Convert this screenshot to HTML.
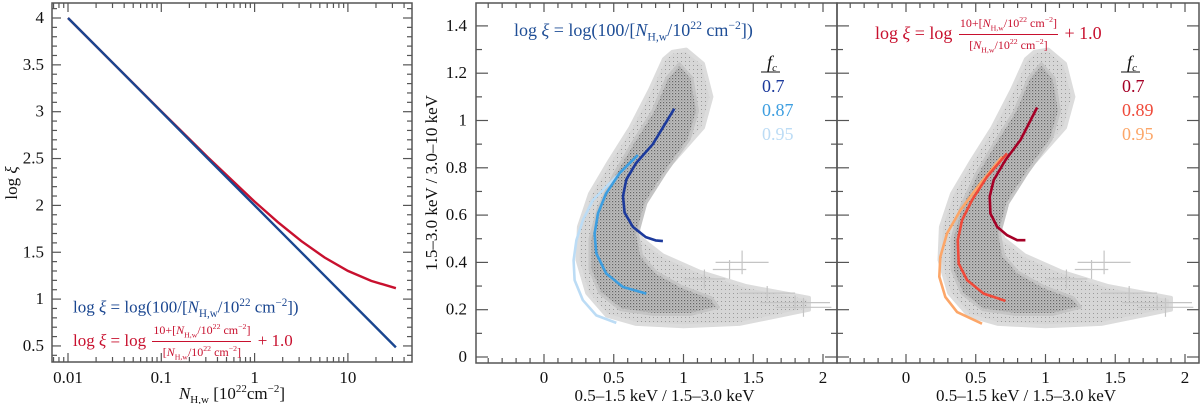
<!DOCTYPE html>
<html><head><meta charset="utf-8">
<style>
body{margin:0;background:#fff;}
#wrap{position:relative;width:1200px;height:404px;overflow:hidden;font-family:"Liberation Serif",serif;}
svg{position:absolute;left:0;top:0;}
.f{position:absolute;white-space:nowrap;font-family:"Liberation Serif",serif;}
.f i{font-style:italic}
.f sub,.f sup{font-size:65%;}
.frac{display:inline-block;vertical-align:middle;text-align:center;font-size:12px;line-height:13px;margin:0 2px;}
.frac .n{border-bottom:1px solid currentColor;padding:0 1px;}
</style></head>
<body>
<div id="wrap">
<svg id="svg" width="1200" height="404"></svg>

<div class="f" style="left:73px;top:297px;font-size:17px;color:#1a4690">log <i>ξ</i> = log(100/[<i>N</i><sub>H,w</sub>/10<sup>22</sup> cm<sup>−2</sup>])</div>
<div class="f" style="left:73px;top:320px;font-size:17px;color:#c8102e">log <i>ξ</i> = log <span class="frac"><div class="n">10+[<i>N</i><sub>H,w</sub>/10<sup>22</sup> cm<sup>−2</sup>]</div><div>[<i>N</i><sub>H,w</sub>/10<sup>22</sup> cm<sup>−2</sup>]</div></span> + 1.0</div>

<div class="f" style="left:514px;top:19px;font-size:18px;color:#1f4e96">log <i>ξ</i> = log(100/[<i>N</i><sub>H,w</sub>/10<sup>22</sup> cm<sup>−2</sup>])</div>
<div class="f" style="left:875px;top:13px;font-size:18px;color:#c8102e">log <i>ξ</i> = log <span class="frac"><div class="n">10+[<i>N</i><sub>H,w</sub>/10<sup>22</sup> cm<sup>−2</sup>]</div><div>[<i>N</i><sub>H,w</sub>/10<sup>22</sup> cm<sup>−2</sup>]</div></span> + 1.0</div>
</div>
<script>
// ---------- data ----------
const leftLogN = [-2,-1.5,-1,-0.5,0,0.25,0.5,0.75,1,1.25,1.515];
const leftBlue = [4,3.5,3,2.5,2,1.75,1.5,1.25,1,0.75,0.485];
const leftRed  = [4.0,3.501,3.004,2.513,2.041,1.821,1.619,1.444,1.301,1.194,1.116];

const blueX07 = [0.934,0.78,0.66,0.59,0.566,0.578,0.637,0.73,0.80,0.852];
const blueY07 = [1.05,0.90,0.82,0.75,0.68,0.61,0.55,0.507,0.493,0.49];
const blueX087 = [0.673,0.542,0.446,0.387,0.363,0.375,0.446,0.566,0.733];
const blueY087 = [0.854,0.777,0.692,0.607,0.522,0.438,0.353,0.296,0.268];
const blueX095 = [0.637,0.494,0.351,0.279,0.232,0.212,0.219,0.279,0.375,0.518];
const blueY095 = [0.833,0.748,0.664,0.579,0.494,0.409,0.325,0.24,0.176,0.144];

const redX07 = [0.94,0.82,0.713,0.629,0.6,0.605,0.653,0.725,0.797,0.856];
const redY07 = [1.055,0.917,0.833,0.748,0.678,0.607,0.551,0.515,0.494,0.494];
const redX089 = [0.725,0.581,0.474,0.402,0.371,0.378,0.438,0.557,0.713];
const redY089 = [0.861,0.762,0.664,0.579,0.494,0.395,0.325,0.268,0.237];
const redX095 = [0.689,0.533,0.39,0.294,0.246,0.239,0.282,0.366,0.545];
const redY095 = [0.847,0.734,0.621,0.522,0.423,0.339,0.254,0.19,0.141];

const cloudOuterX = [0.86,0.76,0.62,0.47,0.33,0.25,0.24,0.31,0.45,0.66,1.0,1.4,1.9,1.9,1.45,1.12,0.85,0.7,0.64,0.72,0.93,1.14,1.2,1.14,1.02,0.92];
const cloudOuterY = [1.26,1.13,0.97,0.83,0.69,0.55,0.41,0.27,0.175,0.14,0.13,0.14,0.2,0.25,0.3,0.36,0.43,0.5,0.59,0.71,0.83,0.97,1.1,1.24,1.3,1.29];
const cloudInnerX = [0.88,0.78,0.63,0.5,0.39,0.33,0.33,0.4,0.55,0.78,1.05,1.25,1.2,0.98,0.8,0.7,0.67,0.73,0.87,1.04,1.1,1.06,0.97];
const cloudInnerY = [1.18,1.04,0.9,0.77,0.63,0.5,0.37,0.27,0.2,0.18,0.18,0.21,0.25,0.3,0.36,0.43,0.52,0.65,0.78,0.92,1.04,1.18,1.24];
// outlier error-bar crosses: centre x, y, x-err, y-err
const outX = [1.42,1.15,1.8,1.86,1.6,1.33];
const outY = [0.40,0.33,0.23,0.21,0.27,0.37];
const outEX = [0.19,0.15,0.25,0.2,0.2,0.12];
const outEY = [0.05,0.04,0.03,0.04,0.03,0.04];

const leftXTicks = ["0.01","0.1","1","10"];
const leftYTicks = ["0.5","1","1.5","2","2.5","3","3.5","4"];
const midXTicks = ["0","0.5","1","1.5","2"];
const midYTicks = ["0","0.2","0.4","0.6","0.8","1","1.2","1.4"];

// ---------- helpers ----------
const NS="http://www.w3.org/2000/svg";
const svg=document.getElementById('svg');
function mk(tag,attrs,parent){const e=document.createElementNS(NS,tag);for(const k in attrs)e.setAttribute(k,attrs[k]);(parent||svg).appendChild(e);return e;}
const defs=mk('defs',{});
const pat=mk('pattern',{id:'dots',width:3,height:3,patternUnits:'userSpaceOnUse'},defs);
mk('rect',{width:3,height:3,fill:'#bdbdbd'},pat);
mk('rect',{x:0,y:0,width:1.2,height:1.2,fill:'#666'},pat);
mk('rect',{x:1.5,y:1.5,width:1,height:1,fill:'#8a8a8a'},pat);
const pat2=mk('pattern',{id:'light',width:4,height:4,patternUnits:'userSpaceOnUse'},defs);
mk('rect',{width:4,height:4,fill:'#d6d6d6'},pat2);
mk('rect',{x:1,y:1,width:1,height:1,fill:'#9a9a9a'},pat2);

function text(x,y,s,attrs,name){const t=mk('text',Object.assign({x:x,y:y,'font-family':'Liberation Serif, serif','font-size':17,fill:'#111'},attrs||{}));t.textContent=s;return t;}

// ---------- left panel ----------
const L={x0:52,x1:412,y0:3,y1:362};
const lx=v=>68+(v+2)*93.3;
const ly=v=>18+(4-v)*93.7;
const lframe=mk('rect',{x:L.x0,y:L.y0,width:L.x1-L.x0,height:L.y1-L.y0,fill:'none',stroke:'#555','stroke-width':1.5});

for(let d=-3;d<=2;d++){for(let m=1;m<=9;m++){const x=lx(d+Math.log10(m));if(x<L.x0+1||x>L.x1-1)continue;const len=m===1?9:5;
 mk('line',{x1:x,x2:x,y1:L.y1,y2:L.y1-len,stroke:'#555','stroke-width':1.2});mk('line',{x1:x,x2:x,y1:L.y0,y2:L.y0+len,stroke:'#555','stroke-width':1.2});}}
for(let v=0.4;v<=4.3;v+=0.1){const y=ly(v);if(y<L.y0+1||y>L.y1-1)continue;const maj=Math.abs(v*2-Math.round(v*2))<0.01;const len=maj?9:5;
 mk('line',{x1:L.x0,x2:L.x0+len,y1:y,y2:y,stroke:'#555','stroke-width':1.2});mk('line',{x1:L.x1,x2:L.x1-len,y1:y,y2:y,stroke:'#555','stroke-width':1.2});}
leftXTicks.forEach((s,i)=>text(lx(i-2),383,s,{'text-anchor':'middle'},'left-x-tick-label'));
leftYTicks.forEach((s,i)=>text(44,ly(0.5+i*0.5)+5,s,{'text-anchor':'end'},'left-y-tick-label'));
const lxt=text(232,399,'',{'text-anchor':'middle','font-size':17},'left-x-axis-title');
lxt.innerHTML='<tspan font-style="italic">N</tspan><tspan font-size="11" dy="4">H,w</tspan><tspan dy="-4"> [10</tspan><tspan font-size="11" dy="-7">22</tspan><tspan dy="7">cm</tspan><tspan font-size="11" dy="-7">−2</tspan><tspan dy="7">]</tspan>';
const lyt=text(0,0,'',{'text-anchor':'middle','font-size':17,transform:'translate(17,183) rotate(-90)'},'left-y-axis-title');
lyt.innerHTML='log <tspan font-style="italic">ξ</tspan>';
function lpath(ys,col,name){const d=leftLogN.map((v,i)=>(i?'L':'M')+lx(v).toFixed(1)+','+ly(ys[i]).toFixed(1)).join('');const p=mk('path',{d:d,fill:'none',stroke:col,'stroke-width':2.4});}
lpath(leftRed,'#c8102e','left-red-line');
lpath(leftBlue,'#1a4690','left-blue-line');

// ---------- scatter panels ----------
function panel(x0,x1,zero,name,curves,legend){
 const P={x0:x0,x1:x1,y0:3,y1:363};
 const px=v=>zero+v*139.5, py=v=>357-v*236.5;
 const g=mk('g',{});
 const cp=mk('clipPath',{id:'clip'+name},defs);mk('rect',{x:P.x0,y:P.y0,width:P.x1-P.x0,height:P.y1-P.y0},cp);
 const cg=mk('g',{'clip-path':'url(#clip'+name+')'},g);
 const outer=mk('path',{d:cloudOuterX.map((v,i)=>(i?'L':'M')+px(v).toFixed(1)+','+py(cloudOuterY[i]).toFixed(1)).join('')+'Z',fill:'url(#light)',stroke:'#dcdcdc','stroke-width':4,'stroke-linejoin':'round'},cg);
 
 const inner=mk('path',{d:cloudInnerX.map((v,i)=>(i?'L':'M')+px(v).toFixed(1)+','+py(cloudInnerY[i]).toFixed(1)).join('')+'Z',fill:'url(#dots)',stroke:'#c4c4c4','stroke-width':3,'stroke-linejoin':'round'},cg);
 
 outX.forEach((v,i)=>{const c=mk('g',{stroke:'#c4c4c4','stroke-width':1.2},cg);
  mk('line',{x1:px(v-outEX[i]),x2:px(v+outEX[i]),y1:py(outY[i]),y2:py(outY[i])},c);
  mk('line',{x1:px(v),x2:px(v),y1:py(outY[i]-outEY[i]),y2:py(outY[i]+outEY[i])},c);});
 curves.forEach(c=>{const p=mk('path',{d:c.x.map((v,i)=>(i?'L':'M')+px(v).toFixed(1)+','+py(c.y[i]).toFixed(1)).join(''),fill:'none',stroke:c.col,'stroke-width':2.6,'stroke-linejoin':'round'},cg);});
 const fr=mk('rect',{x:P.x0,y:P.y0,width:P.x1-P.x0,height:P.y1-P.y0,fill:'none',stroke:'#555','stroke-width':1.5},g);
 
 for(let k=-5;k<=22;k++){const x=px(k/10);if(x<P.x0+1||x>P.x1-1)continue;const len=k%5===0?9:5;
  mk('line',{x1:x,x2:x,y1:P.y1,y2:P.y1-len,stroke:'#555','stroke-width':1.2},g);mk('line',{x1:x,x2:x,y1:P.y0,y2:P.y0+len,stroke:'#555','stroke-width':1.2},g);}
 for(let k=0;k<=15;k++){const y=py(k/10);if(y<P.y0+1)continue;const len=k%2===0?12:6;
  mk('line',{x1:P.x0,x2:P.x0+len,y1:y,y2:y,stroke:'#555','stroke-width':1.2},g);mk('line',{x1:P.x1,x2:P.x1-len,y1:y,y2:y,stroke:'#555','stroke-width':1.2},g);}
 midXTicks.forEach((s,i)=>text(px(i*0.5),383,s,{'text-anchor':'middle'},name+'-x-tick-label'));
 text((P.x0+P.x1)/2+8,401,'0.5–1.5 keV  /  1.5–3.0 keV',{'text-anchor':'middle','font-size':17},name+'-x-axis-title');
 const lf=text(legend.x,68,'',{'text-anchor':'middle','font-size':18,'font-style':'italic'},name+'-legend-title');
 lf.innerHTML='f<tspan font-size="11" dy="3">c</tspan>';
 mk('line',{x1:legend.x-11,x2:legend.x+8,y1:72,y2:72,stroke:'#111','stroke-width':1},g);
 legend.items.forEach((it,i)=>text(legend.x-10,92+i*24,it.t,{'font-size':18,fill:it.col},name+'-legend-entry'));
}
panel(476,837,544,'middle-panel',[
 {x:blueX095,y:blueY095,col:'#bcdcf5',name:'curve-fc-0.95'},
 {x:blueX087,y:blueY087,col:'#3d9ee0',name:'curve-fc-0.87'},
 {x:blueX07,y:blueY07,col:'#1c3a9c',name:'curve-fc-0.7'}],
 {x:772,items:[{t:'0.7',col:'#1c3a9c'},{t:'0.87',col:'#3d9ee0'},{t:'0.95',col:'#bcdcf5'}]});
panel(837,1199,906,'right-panel',[
 {x:redX095,y:redY095,col:'#fca668',name:'curve-fc-0.95'},
 {x:redX089,y:redY089,col:'#ef4a3a',name:'curve-fc-0.89'},
 {x:redX07,y:redY07,col:'#a50026',name:'curve-fc-0.7'}],
 {x:1132,items:[{t:'0.7',col:'#a50026'},{t:'0.89',col:'#ef4a3a'},{t:'0.95',col:'#fca668'}]});
midYTicks.forEach((s,i)=>text(467,357-i*0.2*236.5+5,s,{'text-anchor':'end'},'middle-y-tick-label'));
text(0,0,'1.5–3.0 keV  /  3.0–10 keV',{'text-anchor':'middle','font-size':17,transform:'translate(437,183) rotate(-90)'},'middle-y-axis-title');
</script>
</body></html>
